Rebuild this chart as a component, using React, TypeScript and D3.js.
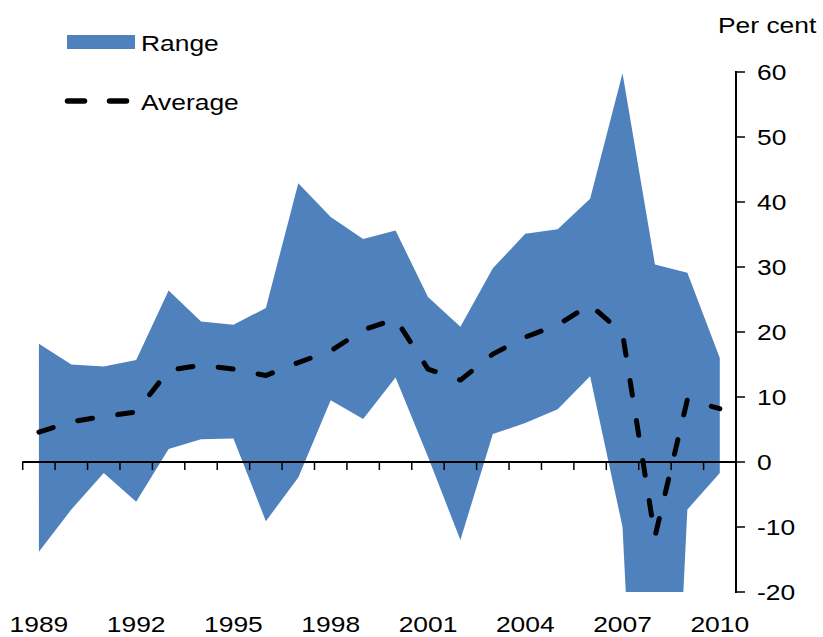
import React from "react";
import * as d3 from "d3";

const years = [1989, 1990, 1991, 1992, 1993, 1994, 1995, 1996, 1997, 1998, 1999, 2000, 2001, 2002, 2003, 2004, 2005, 2006, 2007, 2008, 2009, 2010];
const rangeUpper = [18.2, 15.0, 14.7, 15.7, 26.4, 21.6, 21.1, 23.7, 42.9, 37.7, 34.3, 35.6, 25.4, 20.8, 29.8, 35.1, 35.8, 40.5, 59.8, 30.4, 29.1, 16.0];
const rangeLower = [-13.8, -7.3, -1.7, -6.1, 2.0, 3.5, 3.6, -9.1, -2.4, 9.5, 6.6, 13.0, 0.8, -12.0, 4.3, 6.0, 8.1, 13.2, -10.0, -110, -7.3, -1.7];
const average = [4.6, 6.2, 7.0, 7.7, 14.1, 14.9, 14.3, 13.3, 15.3, 17.1, 20.3, 22.0, 14.3, 12.6, 16.6, 19.2, 21.1, 24.2, 19.8, -11.5, 9.6, 8.2];
const yTicks = [-20, -10, 0, 10, 20, 30, 40, 50, 60];
const xLabelYears = [1989, 1992, 1995, 1998, 2001, 2004, 2007, 2010];

const FONT = "'Liberation Sans', Arial, Helvetica, sans-serif";
const BLUE = "#4F81BD";

function SText({ x, y, anchor = "start", children }: { x: number; y: number; anchor?: string; children: React.ReactNode }) {
  return (
    <text
      transform={`translate(${x},${y}) scale(1.2,1)`}
      textAnchor={anchor as any}
      fontFamily={FONT}
      fontSize={22}
      fill="#000"
    >
      {children}
    </text>
  );
}

export default function App() {
  const W = 823;
  const H = 637;
  const left = 22.7;
  const right = 736;
  const x = d3.scaleBand<number>().domain(years).range([left, right]).paddingInner(0).paddingOuter(0);
  const bw = x.bandwidth();
  const cx = (yr: number) => (x(yr) as number) + bw / 2;
  const y = d3.scaleLinear().domain([-20, 60]).range([592, 72]);

  const data = years.map((yr, i) => ({ yr, lo: rangeLower[i], hi: rangeUpper[i], avg: average[i] }));
  const area = d3.area<typeof data[number]>().x((d) => cx(d.yr)).y0((d) => y(d.lo)).y1((d) => y(d.hi));
  const line = d3.line<typeof data[number]>().x((d) => cx(d.yr)).y((d) => y(d.avg));

  const tickXs = years.map((yr) => x(yr) as number);

  return (
    <svg width={W} height={H} style={{ position: "absolute", left: 0, top: 0, background: "#fff" }}>
      <defs>
        <clipPath id="plotclip">
          <rect x={left} y={y(60)} width={right - left} height={y(-20) - y(60)} />
        </clipPath>
      </defs>
      <rect x={0} y={0} width={W} height={H} fill="#fff" />
      <g clipPath="url(#plotclip)">
        <path d={area(data) || ""} fill={BLUE} stroke="none" />
      </g>
      {/* x axis at zero */}
      <line x1={left - 0.5} x2={right} y1={y(0)} y2={y(0)} stroke="#000" strokeWidth={2} />
      {tickXs.map((tx, i) => (
        <line key={i} x1={tx} x2={tx} y1={y(0)} y2={y(0) + 8} stroke="#000" strokeWidth={1.5} />
      ))}
      {/* average line */}
      <path
        d={line(data) || ""}
        fill="none"
        stroke="#000"
        strokeWidth={5}
        strokeLinecap="round"
        strokeLinejoin="round"
        strokeDasharray="15,25.5"
      />
      {/* y axis */}
      <line x1={right} x2={right} y1={y(60) - 1} y2={y(-20) + 1} stroke="#000" strokeWidth={2} />
      {yTicks.map((t) => (
        <line key={t} x1={right} x2={right + 9} y1={y(t)} y2={y(t)} stroke="#000" strokeWidth={1.5} />
      ))}
      {yTicks.map((t) => (
        <SText key={t} x={757} y={y(t) + 8}>
          {String(t)}
        </SText>
      ))}
      {xLabelYears.map((yr) => (
        <SText key={yr} x={cx(yr)} y={632} anchor="middle">
          {String(yr)}
        </SText>
      ))}
      <SText x={718} y={33}>Per cent</SText>
      {/* legend */}
      <rect x={67} y={35} width={68} height={14} fill={BLUE} />
      <SText x={141} y={51}>Range</SText>
      <line x1={67.5} x2={126.5} y1={101} y2={101} stroke="#000" strokeWidth={5.5} strokeLinecap="round" strokeDasharray="17,25" />
      <SText x={141} y={110}>Average</SText>
    </svg>
  );
}
